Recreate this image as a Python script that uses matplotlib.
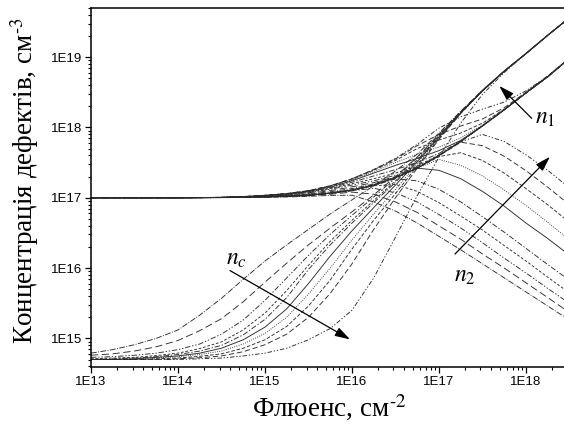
import numpy as np
import matplotlib
matplotlib.use("Agg")
import matplotlib.pyplot as plt
from matplotlib.ticker import LogLocator, FuncFormatter, NullFormatter

plt.rcParams['mathtext.fontset'] = 'stix'

# log10 флюенсу, см^-2
x_lg = [13.0, 13.25, 13.5, 13.75, 14.0, 14.25, 14.5, 14.75, 15.0, 15.25, 15.5,
        15.75, 16.0, 16.25, 16.5, 16.75, 17.0, 17.25, 17.5, 17.75, 18.0, 18.25, 18.45]

# log10 концентрації n1 (10 кривих)
n1_lg = [
    [17.0, 17.0, 17.0, 17.0, 17.0, 17.001, 17.002, 17.008, 17.016, 17.03, 17.052, 17.085, 17.13, 17.195, 17.295, 17.42, 17.60, 17.80, 18.02, 18.25, 18.49, 18.72, 18.93],
    [17.0, 17.0, 17.0, 17.0, 17.0, 17.001, 17.003, 17.009, 17.02, 17.035, 17.062, 17.10, 17.155, 17.215, 17.30, 17.425, 17.60, 17.80, 18.02, 18.25, 18.49, 18.72, 18.93],
    [17.0, 17.0, 17.0, 17.0, 17.0, 17.001, 17.003, 17.01, 17.022, 17.04, 17.07, 17.12, 17.18, 17.24, 17.32, 17.435, 17.605, 17.80, 18.02, 18.25, 18.49, 18.72, 18.93],
    [17.0, 17.0, 17.0, 17.0, 17.0, 17.001, 17.004, 17.012, 17.025, 17.044, 17.078, 17.13, 17.20, 17.27, 17.35, 17.45, 17.61, 17.80, 18.02, 18.25, 18.49, 18.72, 18.93],
    [17.0, 17.0, 17.0, 17.0, 17.0, 17.001, 17.004, 17.013, 17.028, 17.048, 17.085, 17.14, 17.22, 17.31, 17.40, 17.50, 17.63, 17.805, 18.02, 18.25, 18.49, 18.72, 18.93],
    [17.0, 17.0, 17.0, 17.0, 17.0, 17.002, 17.005, 17.014, 17.03, 17.052, 17.09, 17.15, 17.24, 17.35, 17.46, 17.56, 17.67, 17.815, 18.025, 18.25, 18.49, 18.72, 18.93],
    [17.0, 17.0, 17.0, 17.0, 17.0, 17.002, 17.005, 17.015, 17.032, 17.055, 17.095, 17.16, 17.25, 17.37, 17.50, 17.62, 17.72, 17.85, 18.035, 18.255, 18.49, 18.72, 18.93],
    [17.0, 17.0, 17.0, 17.0, 17.0, 17.002, 17.006, 17.016, 17.034, 17.058, 17.098, 17.165, 17.26, 17.39, 17.53, 17.70, 17.82, 17.92, 18.06, 18.26, 18.495, 18.725, 18.93],
    [17.0, 17.0, 17.0, 17.0, 17.0, 17.002, 17.006, 17.017, 17.035, 17.06, 17.10, 17.17, 17.27, 17.40, 17.55, 17.74, 17.90, 18.02, 18.12, 18.28, 18.50, 18.73, 18.935],
    [17.0, 17.0, 17.0, 17.0, 17.0, 17.002, 17.006, 17.017, 17.035, 17.06, 17.10, 17.17, 17.27, 17.40, 17.56, 17.76, 17.99, 18.15, 18.26, 18.36, 18.52, 18.73, 18.94],
]

# log10 концентрації n2
n2_lg = [
    [17.0, 17.0, 17.0, 17.0, 17.0, 17.0, 17.001, 17.003, 17.006, 17.011, 17.02, 17.033, 17.035, 16.94, 16.81, 16.64, 16.45, 16.26, 16.06, 15.86, 15.66, 15.46, 15.30],
    [17.0, 17.0, 17.0, 17.0, 17.0, 17.001, 17.002, 17.004, 17.009, 17.016, 17.028, 17.05, 17.08, 17.05, 16.94, 16.79, 16.60, 16.41, 16.20, 16.00, 15.79, 15.58, 15.41],
    [17.0, 17.0, 17.0, 17.0, 17.0, 17.001, 17.003, 17.005, 17.011, 17.019, 17.034, 17.06, 17.10, 17.135, 17.07, 16.94, 16.76, 16.57, 16.36, 16.14, 15.93, 15.71, 15.54],
    [17.0, 17.0, 17.0, 17.0, 17.0, 17.001, 17.003, 17.006, 17.012, 17.02, 17.035, 17.062, 17.10, 17.17, 17.19, 17.09, 16.93, 16.74, 16.54, 16.32, 16.10, 15.87, 15.69],
    [17.0, 17.0, 17.0, 17.0, 17.0, 17.001, 17.003, 17.006, 17.012, 17.021, 17.037, 17.064, 17.105, 17.17, 17.27, 17.24, 17.12, 16.94, 16.73, 16.51, 16.28, 16.05, 15.87],
    [17.0, 17.0, 17.0, 17.0, 17.0, 17.002, 17.004, 17.007, 17.013, 17.022, 17.038, 17.066, 17.11, 17.18, 17.285, 17.42, 17.39, 17.27, 17.09, 16.88, 16.64, 16.42, 16.23],
    [17.0, 17.0, 17.0, 17.0, 17.0, 17.002, 17.004, 17.007, 17.013, 17.022, 17.038, 17.066, 17.11, 17.18, 17.285, 17.42, 17.545, 17.46, 17.31, 17.11, 16.89, 16.65, 16.45],
    [17.0, 17.0, 17.0, 17.0, 17.0, 17.002, 17.004, 17.007, 17.013, 17.022, 17.038, 17.066, 17.11, 17.18, 17.285, 17.42, 17.585, 17.64, 17.53, 17.35, 17.13, 16.90, 16.70],
    [17.0, 17.0, 17.0, 17.0, 17.0, 17.002, 17.004, 17.007, 17.013, 17.022, 17.038, 17.066, 17.11, 17.18, 17.285, 17.42, 17.595, 17.79, 17.74, 17.59, 17.385, 17.15, 16.95],
    [17.0, 17.0, 17.0, 17.0, 17.0, 17.002, 17.004, 17.007, 17.013, 17.022, 17.038, 17.066, 17.11, 17.18, 17.285, 17.42, 17.60, 17.795, 17.90, 17.80, 17.61, 17.39, 17.19],
]

# log10 концентрації n_c
nc_lg = [
    [14.79, 14.84, 14.91, 15.00, 15.12, 15.33, 15.57, 15.84, 16.10, 16.33, 16.55, 16.77, 16.97, 17.17, 17.38, 17.62, 17.92, 18.23, 18.53, 18.80, 19.05, 19.31, 19.51],
    [14.76, 14.78, 14.82, 14.88, 14.97, 15.11, 15.28, 15.52, 15.80, 16.07, 16.33, 16.57, 16.80, 17.04, 17.30, 17.58, 17.90, 18.22, 18.53, 18.80, 19.05, 19.31, 19.51],
    [14.73, 14.74, 14.76, 14.79, 14.84, 14.92, 15.06, 15.26, 15.54, 15.86, 16.18, 16.48, 16.75, 17.01, 17.28, 17.57, 17.89, 18.22, 18.52, 18.80, 19.05, 19.31, 19.51],
    [14.71, 14.72, 14.73, 14.755, 14.79, 14.855, 14.95, 15.12, 15.36, 15.68, 16.04, 16.38, 16.68, 16.96, 17.24, 17.54, 17.88, 18.21, 18.52, 18.80, 19.05, 19.31, 19.51],
    [14.70, 14.71, 14.72, 14.74, 14.77, 14.82, 14.90, 15.05, 15.27, 15.58, 15.98, 16.33, 16.64, 16.93, 17.22, 17.53, 17.87, 18.21, 18.52, 18.80, 19.05, 19.31, 19.51],
    [14.70, 14.70, 14.71, 14.73, 14.75, 14.79, 14.86, 14.98, 15.16, 15.42, 15.78, 16.17, 16.53, 16.86, 17.18, 17.51, 17.86, 18.21, 18.52, 18.80, 19.05, 19.31, 19.51],
    [14.70, 14.70, 14.71, 14.72, 14.74, 14.77, 14.82, 14.92, 15.07, 15.30, 15.63, 16.00, 16.40, 16.77, 17.12, 17.48, 17.85, 18.20, 18.52, 18.80, 19.05, 19.31, 19.51],
    [14.70, 14.70, 14.70, 14.71, 14.72, 14.745, 14.78, 14.86, 14.98, 15.17, 15.46, 15.83, 16.27, 16.68, 17.06, 17.45, 17.84, 18.20, 18.52, 18.80, 19.05, 19.31, 19.51],
    [14.70, 14.70, 14.70, 14.70, 14.71, 14.725, 14.75, 14.81, 14.91, 15.06, 15.30, 15.64, 16.06, 16.55, 17.00, 17.42, 17.83, 18.20, 18.52, 18.80, 19.05, 19.31, 19.51],
    [14.70, 14.70, 14.70, 14.70, 14.70, 14.71, 14.72, 14.75, 14.79, 14.86, 14.98, 15.14, 15.40, 15.86, 16.44, 17.03, 17.58, 18.06, 18.47, 18.78, 19.05, 19.31, 19.51],
]

# типи ліній як в Origin
styles = ['-.', (0, (8, 4)), (0, (6, 2, 1.5, 2, 1.5, 2)), (0, (3, 2)),
          (0, (6, 2, 1.5, 2)), '-', (0, (1, 1.5)), (0, (4, 2)),
          (0, (6, 3)), (0, (5, 2, 1.5, 2, 1.5, 2))]

fig = plt.figure(figsize=(5.64, 4.32), dpi=100)
ax = fig.add_axes([91 / 564, 65.5 / 432, 473 / 564, 359 / 432])

x = 10 ** np.array(x_lg)
for fam in (n1_lg, n2_lg, nc_lg):
    for i, curve in enumerate(fam):
        ax.plot(x, 10 ** np.array(curve), color='#2a2a2a', lw=0.65,
                linestyle=styles[i])

ax.set_xscale('log')
ax.set_yscale('log')
ax.set_xlim(1e13, 10 ** 18.437)
ax.set_ylim(10 ** 14.6, 10 ** 19.705)

fmt = FuncFormatter(lambda v, _: "1E%d" % int(round(np.log10(v))))
for axis in (ax.xaxis, ax.yaxis):
    axis.set_major_locator(LogLocator(base=10, numticks=20))
    axis.set_minor_locator(LogLocator(base=10, subs=np.arange(2, 10), numticks=20))
    axis.set_major_formatter(fmt)
    axis.set_minor_formatter(NullFormatter())

ax.tick_params(which='major', direction='out', length=4, width=0.9,
               labelsize=9.5, pad=2.5)
ax.tick_params(which='minor', direction='out', length=2.3, width=0.8)
for lab in ax.get_xticklabels() + ax.get_yticklabels():
    lab.set_family('Liberation Sans')

ax.spines['right'].set_visible(False)
for s in ('left', 'bottom', 'top'):
    ax.spines[s].set_linewidth(1.1)

# підписи осей
fig.text(25 / 564, 1 - 181 / 432, 'Концентрація дефектів, см$^{\u2010 3}$',
         rotation=90, ha='center', va='center', fontsize=19.5,
         family='Liberation Serif')
fig.text(329 / 564, 1 - 408 / 432, 'Флюенс, см$^{\u2010 2}$',
         ha='center', va='center', fontsize=19.5, family='Liberation Serif')

# стрілки та позначки
arrow = dict(arrowstyle='-|>,head_length=0.65,head_width=0.2', color='k',
             lw=0.9, mutation_scale=14, shrinkA=0, shrinkB=0)
ax.annotate('', xy=(10 ** 17.693, 10 ** 18.589), xytext=(10 ** 18.066, 10 ** 18.129),
            arrowprops=arrow)
ax.annotate('', xy=(10 ** 18.276, 10 ** 17.583), xytext=(10 ** 17.184, 10 ** 16.199),
            arrowprops=arrow)
ax.annotate('', xy=(10 ** 15.977, 10 ** 14.986), xytext=(10 ** 14.598, 10 ** 15.964),
            arrowprops=arrow)

ax.text(10 ** 18.218, 10 ** 18.148, r'$n_1$', fontsize=17, ha='center', va='center')
ax.text(10 ** 17.299, 10 ** 15.90, r'$n_2$', fontsize=17, ha='center', va='center')
ax.text(10 ** 14.667, 10 ** 16.142, r'$n_c$', fontsize=17, ha='center', va='center')

fig.savefig('out.png', dpi=100)
